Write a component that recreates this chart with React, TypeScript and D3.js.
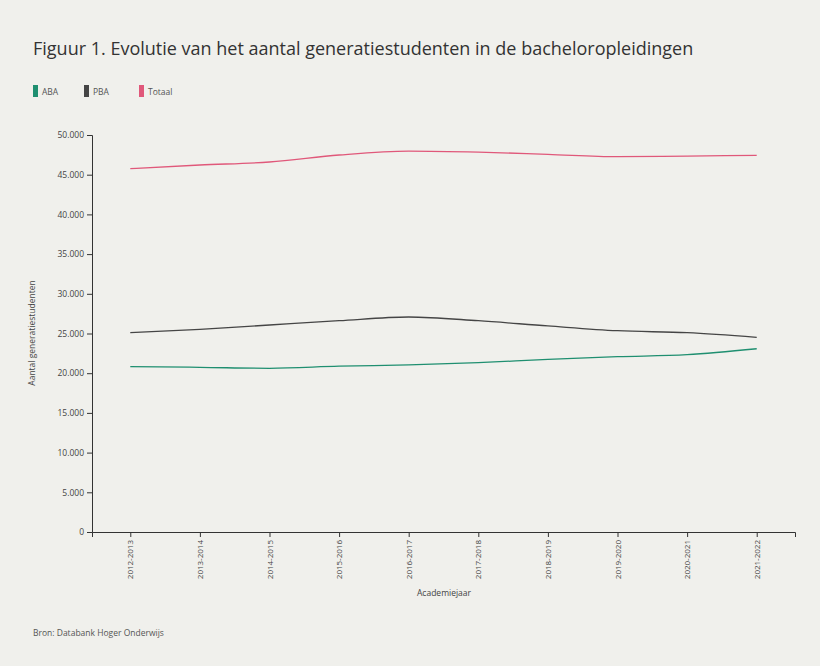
import React, { useEffect, useRef } from "react";
import * as d3 from "d3";

const years = ["2012-2013","2013-2014","2014-2015","2015-2016","2016-2017","2017-2018","2018-2019","2019-2020","2020-2021","2021-2022"];
const aba = [20820, 20740, 20620, 20880, 21050, 21320, 21750, 22080, 22330, 23080];
const pba = [25100, 25520, 26070, 26610, 27080, 26610, 25950, 25350, 25100, 24520];
const totaal = [45760, 46220, 46600, 47480, 47980, 47850, 47570, 47270, 47350, 47440];
const yTicks = [0, 5000, 10000, 15000, 20000, 25000, 30000, 35000, 40000, 45000, 50000];
const seriesNames = ["ABA", "PBA", "Totaal"];
const seriesColors = ["#1f8f70", "#454545", "#e0587a"];

const FONT = "'Open Sans', 'Noto Sans', sans-serif";

export default function App() {
  const ref = useRef<SVGSVGElement>(null);
  useEffect(() => {
    const svg = d3.select(ref.current);
    svg.selectAll("*").remove();
    const W = 820, H = 666;
    svg.append("rect").attr("width", W).attr("height", H).attr("fill", "#f0f0ec");

    svg.append("text").attr("x", 33).attr("y", 55).attr("font-family", FONT)
      .attr("font-size", 18).attr("fill", "#333")
      .text("Figuur 1. Evolutie van het aantal generatiestudenten in de bacheloropleidingen");

    // legend
    const legendX = [33, 84, 139];
    seriesNames.forEach((n, i) => {
      svg.append("rect").attr("x", legendX[i]).attr("y", 85).attr("width", 5).attr("height", 12)
        .attr("fill", seriesColors[i]);
      svg.append("text").attr("x", legendX[i] + 9).attr("y", 94.5).attr("font-family", FONT)
        .attr("font-size", 8.5).attr("fill", "#555").text(n);
    });

    const x = d3.scalePoint<string>().domain(years).range([92, 795]).padding(0.55);
    const y = d3.scaleLinear().domain([0, 50000]).range([532, 135]);
    const nl = d3.formatLocale({ decimal: ",", thousands: ".", grouping: [3], currency: ["€", ""] });
    const fmt = nl.format(",");

    const gy = svg.append("g").attr("transform", "translate(92,0)")
      .call(d3.axisLeft(y).tickValues(yTicks).tickFormat((d: any) => fmt(d)).tickSize(5).tickSizeOuter(5));
    gy.selectAll("text").attr("font-family", FONT).attr("font-size", 8.5).attr("fill", "#444");
    gy.selectAll("path,line").attr("stroke", "#333");

    const gx = svg.append("g").attr("transform", "translate(0,532)")
      .call(d3.axisBottom(x).tickSize(5).tickSizeOuter(5));
    gx.selectAll("text").attr("font-family", FONT).attr("font-size", 8).attr("fill", "#444")
      .attr("transform", "rotate(-90)").attr("text-anchor", "end").attr("x", -8).attr("y", 0).attr("dy", "0.32em");
    gx.selectAll("path,line").attr("stroke", "#333");

    svg.append("text").attr("x", 444).attr("y", 596).attr("text-anchor", "middle").attr("font-family", FONT)
      .attr("font-size", 8.5).attr("fill", "#444").text("Academiejaar");
    svg.append("text").attr("transform", "translate(35,333) rotate(-90)").attr("text-anchor", "middle")
      .attr("font-family", FONT).attr("font-size", 8.5).attr("fill", "#444").text("Aantal generatiestudenten");

    const line = d3.line<number>().x((_, i) => x(years[i])!).y(d => y(d)).curve(d3.curveMonotoneX);
    [aba, pba, totaal].forEach((s, i) => {
      svg.append("path").attr("d", line(s)).attr("fill", "none").attr("stroke", seriesColors[i]).attr("stroke-width", 1.3);
    });

    svg.append("text").attr("x", 33).attr("y", 636).attr("font-family", FONT)
      .attr("font-size", 8.5).attr("fill", "#555").text("Bron: Databank Hoger Onderwijs");
  }, []);
  return <svg ref={ref} width={820} height={666} style={{ position: "absolute", left: 0, top: 0, display: "block" }} />;
}
